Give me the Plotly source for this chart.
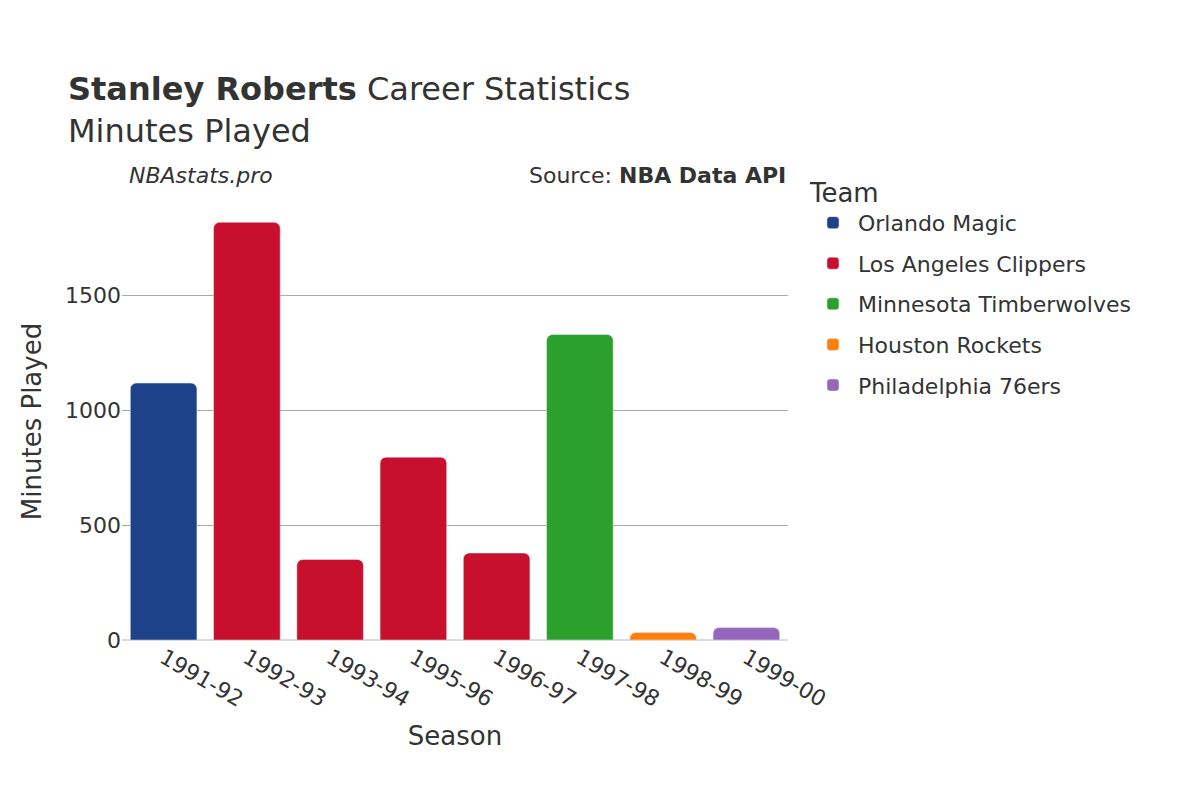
import plotly.graph_objects as go

seasons = ["1991-92","1992-93","1993-94","1995-96","1996-97","1997-98","1998-99","1999-00"]
teams = ["Orlando Magic","Los Angeles Clippers","Los Angeles Clippers","Los Angeles Clippers","Los Angeles Clippers","Minnesota Timberwolves","Houston Rockets","Philadelphia 76ers"]
minutes = [1117, 1816, 350, 795, 378, 1328, 33, 54]
team_order = ["Orlando Magic","Los Angeles Clippers","Minnesota Timberwolves","Houston Rockets","Philadelphia 76ers"]
colors = ["#1d428a","#c8102e","#2ca02c","#ff7f0e","#9467bd"]

fig = go.Figure()
for t, c in zip(team_order, colors):
    xs = [s for s, tm in zip(seasons, teams) if tm == t]
    ys = [m for m, tm in zip(minutes, teams) if tm == t]
    fig.add_trace(go.Bar(x=xs, y=ys, name=t, marker_color=c, legendgroup=t))

fig.update_layout(
    width=1200, height=800, barmode="relative", barcornerradius=6,
    font=dict(family="DejaVu Sans", size=22, color="#333"),
    plot_bgcolor="white", paper_bgcolor="white",
    margin=dict(l=114, r=420, t=195, b=168),
    title=dict(text="<b>Stanley Roberts</b> Career Statistics<br>Minutes Played",
               x=0.05, xanchor="left", y=0.885, yanchor="top", font=dict(size=32)),
    legend=dict(title=dict(text="Team", font=dict(size=26)), x=1.03, y=1.08, yanchor="top",
                font=dict(size=22), tracegroupgap=9, itemwidth=40),
    xaxis=dict(title=dict(text="Season"), categoryorder="array", categoryarray=seasons,
               tickangle=30, tickfont=dict(size=22)),
    yaxis=dict(title=dict(text="Minutes Played", font=dict(size=26)), gridcolor="#aaa", tickvals=[0,500,1000,1500],
               range=[0, 1900], zeroline=True, zerolinecolor="#ddd", zerolinewidth=2),
    bargap=0.2,
)
fig.add_annotation(text="<i>NBAstats.pro</i>", xref="paper", yref="paper", x=0.0, y=1.03,
                   xanchor="left", yanchor="bottom", showarrow=False, font=dict(size=22), xshift=5)
fig.add_annotation(text="Source: <b>NBA Data API</b>", xref="paper", yref="paper", x=1.0, y=1.03,
                   xanchor="right", yanchor="bottom", showarrow=False, font=dict(size=22))
fig.write_html("out.html")
